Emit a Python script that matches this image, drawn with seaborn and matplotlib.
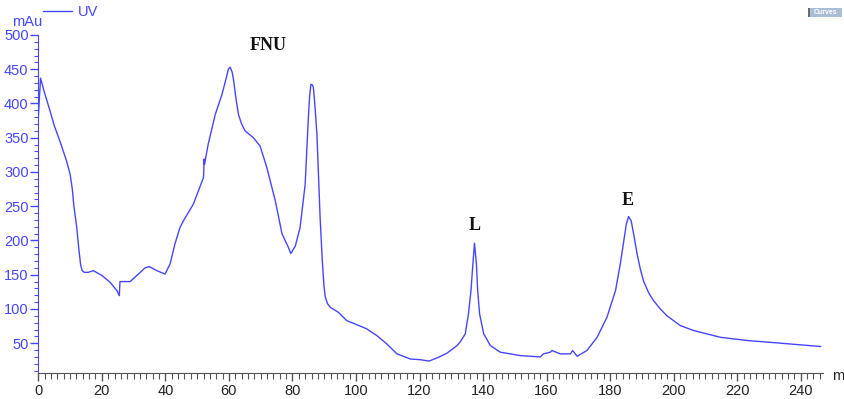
import numpy as np
import pandas as pd
import matplotlib
matplotlib.use("Agg")
import matplotlib.pyplot as plt
import seaborn as sns
from matplotlib.ticker import MultipleLocator

# retention time (min) and UV absorbance (mAu)
time_min = [0, 0.7, 2, 3.7, 5, 6.8, 8.9, 10, 10.7, 11.2, 12.1, 12.7, 13.3, 13.8, 14.5,
            15.7, 17.3, 20, 22.6, 24.7, 25.5, 25.7, 28.9, 31, 33.6, 34.9, 37.3, 39.9,
            41.5, 43, 44.6, 45.7, 48.8, 52, 52.2, 52.3, 53.5, 55.7, 57.8, 59.3, 59.8,
            60.4, 61, 61.4, 62.2, 63, 64, 65.1, 67.7, 69.8, 71.9, 74.6, 76.7, 78.7, 79.5,
            80.9, 82.4, 84, 85, 85.4, 85.8, 86.3, 86.6, 87.1, 87.7, 88.2, 88.7, 89.4,
            89.9, 90.3, 91, 91.9, 94.5, 97.1, 100.3, 103.4, 106.6, 109.7, 112.9, 117.1,
            120.2, 123, 126, 128.6, 131.8, 132.8, 134.4, 135.4, 136.2, 136.8, 137.3,
            137.9, 138.3, 138.9, 140.2, 142.3, 145.4, 151.7, 155, 158, 159, 161.2,
            161.7, 164.3, 167.5, 168.2, 169.6, 172.7, 175.9, 179, 181.7, 183.2, 184.3,
            185.1, 185.8, 186.6, 187.4, 188.5, 189.5, 190.5, 192.1, 193.7, 195.8, 197.9,
            202.1, 206.3, 214.7, 223.1, 232.6, 239.9, 246.3]
uv_mau = [380, 437, 415, 389, 368, 345, 316, 297, 275, 250, 219, 190, 165, 156, 153.5,
          153.5, 156, 149, 139, 127, 119.5, 140, 140, 149, 160, 162, 156, 151,
          166, 195, 219, 229, 253, 292, 319, 311, 341, 384, 413, 440, 450,
          453, 446, 436, 408, 384, 370, 360, 350, 338, 307, 258, 210, 190, 181,
          192, 219, 282, 379, 410, 428, 427, 423, 395, 355, 295, 234, 170,
          135, 118, 108, 102.5, 95, 83, 77, 71, 61, 49, 34.5, 27,
          26, 24, 29.6, 35.4, 46.6, 52, 63.7, 93, 127, 166, 196,
          166, 127, 93, 63.7, 46.6, 37, 32, 31, 30, 34.5, 37,
          39.4, 34.5, 34.5, 39.4, 31, 39.4, 58.7, 88, 127, 166, 200,
          224, 235, 229, 209.5, 180, 158.5, 141, 124, 112, 100, 90,
          75.8, 68.5, 58.7, 54, 50.5, 47.6, 45.2]

peak_names = ["FNU", "L", "E"]
peak_x = [72.3, 137.3, 185.6]
peak_y = [484, 222, 258]

df = pd.DataFrame({"time": time_min, "UV": uv_mau})

sns.set_style("white")
plt.rcParams["font.family"] = ["Liberation Sans", "DejaVu Sans"]

blue = "#4646ff"
fig = plt.figure(figsize=(8.44, 3.99), dpi=100)
ax = fig.add_axes([0.0454, 0.0659, 0.9297, 0.8464])

sns.lineplot(data=df, x="time", y="UV", color=blue, linewidth=1.0, label="UV", ax=ax,
             sort=False)

ax.set_xlim(0, 247)
ax.set_ylim(7, 500)
ax.xaxis.set_major_locator(MultipleLocator(20))
ax.xaxis.set_minor_locator(MultipleLocator(2))
ax.yaxis.set_major_locator(MultipleLocator(50))
ax.yaxis.set_minor_locator(MultipleLocator(10))
ax.set_yticks(np.arange(50, 501, 50))
ax.set_xlabel("")
ax.set_ylabel("")

for s in ["top", "right"]:
    ax.spines[s].set_visible(False)
ax.spines["left"].set_color(blue)
ax.spines["bottom"].set_color("#555555")
ax.tick_params(axis="y", which="major", length=6, width=1, color=blue, labelcolor=blue,
               labelsize=10.5, pad=1, left=True)
ax.tick_params(axis="y", which="minor", length=3, width=0.8, color=blue, left=True)
ax.tick_params(axis="x", which="major", length=6, width=1, color="#555555",
               labelcolor="#222222", labelsize=10.5, pad=2, bottom=True)
ax.tick_params(axis="x", which="minor", length=4, width=0.8, color="#555555", bottom=True)

for name, px, py in zip(peak_names, peak_x, peak_y):
    ax.text(px, py, name, ha="center", va="center", fontsize=13, fontweight="bold",
            family="Liberation Serif", color="#111111")

fig.text(27 / 844, 1 - 22 / 399, "mAu", ha="center", va="center", color=blue, fontsize=10.5)
fig.text(838 / 844, 1 - 376 / 399, "m", ha="center", va="center", color="#222222",
         fontsize=10.5)

leg = ax.legend(loc="center left", bbox_to_anchor=(43 / 844, 1 - 12 / 399),
                bbox_transform=fig.transFigure, frameon=False, fontsize=10.5,
                handlelength=2.0, handletextpad=0.4, borderpad=0, borderaxespad=0)
for t in leg.get_texts():
    t.set_color(blue)

# little "Curves" button in the top right corner
fig.patches.append(plt.Rectangle((808 / 844, 1 - 17 / 399), 34 / 844, 9 / 399,
                                 transform=fig.transFigure, facecolor="#a9bfd8",
                                 edgecolor="none"))
fig.patches.append(plt.Rectangle((808 / 844, 1 - 17 / 399), 2 / 844, 9 / 399,
                                 transform=fig.transFigure, facecolor="#6d6d6d",
                                 edgecolor="none"))
fig.text(826 / 844, 1 - 12.5 / 399, "Curves", ha="center", va="center", color="white",
         fontsize=5, fontweight="bold")

fig.savefig("out.png", dpi=100)
